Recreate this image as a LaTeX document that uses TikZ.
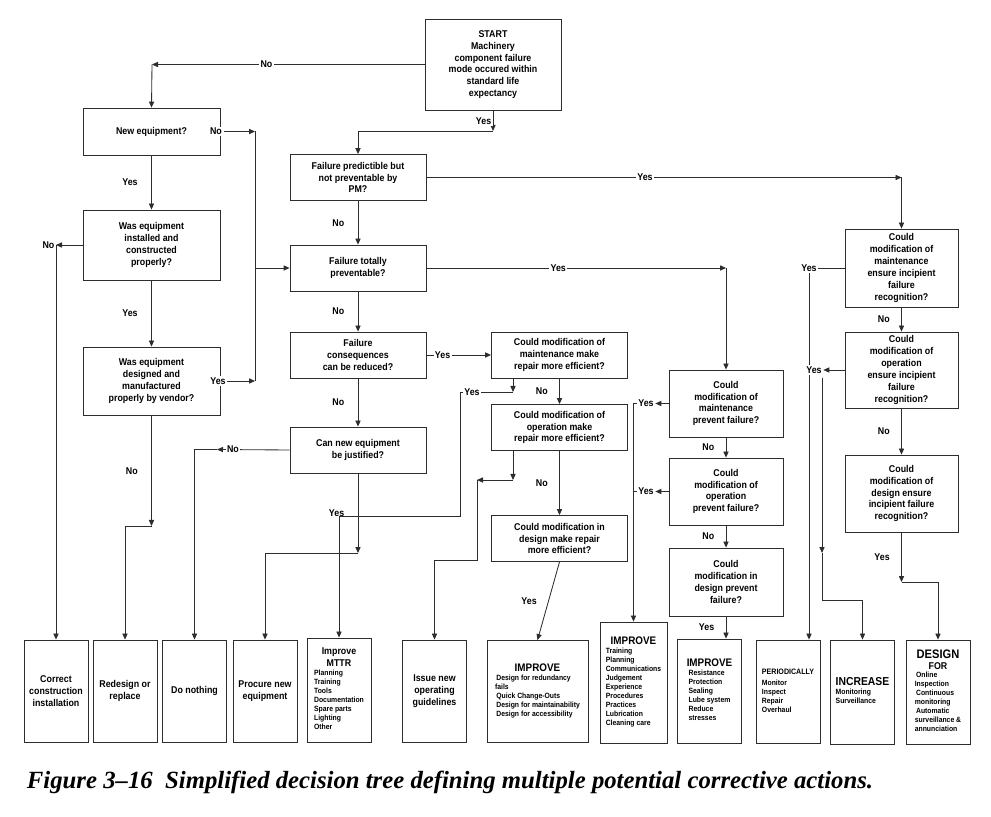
\documentclass[tikz,border=0pt]{standalone}
\usepackage{fontspec}
\setmainfont{Liberation Sans}[FakeStretch=0.9]
\newfontfamily\captionfont{Liberation Serif}
\usepackage{tikz}
\usetikzlibrary{arrows.meta, positioning, calc}
\definecolor{ink}{RGB}{45,45,45}
\newcommand{\listsize}{\fontsize{5.4}{6.4}\selectfont}
\newcommand{\headsize}{\fontsize{7.8}{9}\selectfont}

\begin{document}
\begin{tikzpicture}[
    x=0.25mm, y=-0.25mm,
    question/.style={rectangle, draw=ink, line width=0.6pt, fill=white, align=center, inner sep=1pt, minimum width=34mm, minimum height=11.5mm, font=\fontsize{7}{8.4}\selectfont\bfseries},
    action/.style={rectangle, draw=ink, line width=0.6pt, fill=white, align=center, inner sep=1pt, minimum width=16mm, minimum height=25.5mm, font=\fontsize{7}{8.4}\selectfont\bfseries},
    lbl/.style={fill=white, inner sep=1pt, font=\fontsize{7}{8}\selectfont\bfseries},
    arrow/.style={-{Triangle[length=1.5mm, width=1.3mm]}, draw=ink, line width=0.6pt},
    line/.style={draw=ink, line width=0.6pt}
]
\useasboundingbox (0,0) rectangle (991,817);

\node[question, minimum height=22.75mm] (start) at (493,64.5) {START\\Machinery\\component failure\\mode occured within\\standard life\\expectancy};
\node[question, minimum width=34.25mm, minimum height=11.75mm] (neweq) at (151.5,131.5) {New equipment?};
\node[question, minimum width=34.25mm, minimum height=17.5mm] (installed) at (151.5,245) {Was equipment\\installed and\\constructed\\properly?};
\node[question, minimum width=34.25mm, minimum height=17mm] (designed) at (151.5,381) {Was equipment\\designed and\\manufactured\\properly by vendor?};
\node[question] (predict) at (358,177.5) {Failure predictible but\\not preventable by\\PM?};
\node[question] (totally) at (358,268) {Failure totally\\preventable?};
\node[question] (conseq) at (358,355) {Failure\\consequences\\can be reduced?};
\node[question] (cannew) at (358,450) {Can new equipment\\be justified?};
\node[question] (mrep) at (559.5,355) {Could modification of\\maintenance make\\repair more efficient?};
\node[question] (orep) at (559.5,427.5) {Could modification of\\operation make\\repair more efficient?};
\node[question] (drep) at (559.5,538.5) {Could modification in\\design make repair\\more efficient?};
\node[question, minimum width=28.5mm, minimum height=16.75mm] (mprev) at (726,403.5) {Could\\modification of\\maintenance\\prevent failure?};
\node[question, minimum width=28.5mm, minimum height=16.75mm] (oprev) at (726,491.5) {Could\\modification of\\operation\\prevent failure?};
\node[question, minimum width=28.5mm, minimum height=17mm] (dprev) at (726,582) {Could\\modification in\\design prevent\\failure?};
\node[question, minimum width=28.25mm, minimum height=19.5mm] (mens) at (901.5,268) {Could\\modification of\\maintenance\\ensure incipient\\failure\\recognition?};
\node[question, minimum width=28.25mm, minimum height=19mm] (oens) at (901.5,370) {Could\\modification of\\operation\\ensure incipient\\failure\\recognition?};
\node[question, minimum width=28.25mm, minimum height=19.25mm] (dens) at (901.5,493.5) {Could\\modification of\\design ensure\\incipient failure\\recognition?};

\node[action] (correct) at (56,691) {Correct\\construction\\installation};
\node[action] (redesign) at (125,691) {Redesign or\\replace};
\node[action] (donothing) at (194.5,691) {Do nothing};
\node[action] (procure) at (265,691) {Procure new\\equipment};
\node[action, minimum height=26mm] (mttr) at (339,690) {Improve\\MTTR\\[1pt]\listsize\begin{tabular}{@{}l@{}}Planning\\Training\\Tools\\Documentation\\Spare parts\\Lighting\\Other\end{tabular}};
\node[action] (issue) at (434.5,691) {Issue new\\operating\\guidelines};
\node[action, minimum width=25.25mm] (impdesign) at (537.5,691.5) {\headsize IMPROVE\\[1pt]\listsize\begin{tabular}{@{}l@{}}\,Design for redundancy\\fails\\\,Quick Change-Outs\\\,Design for maintainability\\\,Design for accessibility\end{tabular}};
\node[action, minimum width=16.75mm, minimum height=30.25mm] (imptrain) at (633.5,682.5) {\headsize IMPROVE\\[1pt]\listsize\begin{tabular}{@{}l@{}}Training\\Planning\\Communications\\Judgement\\Experience\\Procedures\\Practices\\Lubrication\\Cleaning care\end{tabular}};
\node[action, minimum height=26mm] (impres) at (709.5,691) {\headsize IMPROVE\\[1pt]\listsize\begin{tabular}{@{}l@{}}Resistance\\Protection\\Sealing\\Lube system\\Reduce\\stresses\end{tabular}};
\node[action, minimum height=25.75mm] (periodic) at (788,691.5) {\listsize\begin{tabular}{@{}l@{}}{\fontsize{5.6}{7}\selectfont PERIODICALLY}\\[1pt]Monitor\\Inspect\\Repair\\Overhaul\end{tabular}};
\node[action, minimum height=26mm] (increase) at (862.5,692) {\listsize\begin{tabular}{@{}l@{}}{\fontsize{8.2}{9}\selectfont INCREASE}\\Monitoring\\Surveillance\end{tabular}};
\node[action, minimum height=26mm] (designfor) at (938,692) {\fontsize{8.8}{10}\selectfont DESIGN\\FOR\\\listsize\begin{tabular}{@{}l@{}}\,Online\\Inspection\\\,Continuous\\monitoring\\\,Automatic\\surveillance \&\\annunciation\end{tabular}};

\node[anchor=base west, font=\captionfont\bfseries\itshape\fontsize{17.6}{20}\selectfont] (caption) at (22,788) {Figure 3–16\enspace Simplified decision tree defining multiple potential corrective actions.};

\coordinate (cNo) at (152,64.5);
\draw[arrow] (start.west) -- node[lbl, pos=0.58]{No} (cNo);
\draw[arrow] (cNo) -- (neweq.north);
\coordinate (cYes) at (493,131);
\draw[arrow] (start.south) -- node[lbl, left]{Yes} (cYes);
\draw[arrow] (cYes) -| (predict.north);

\draw[arrow] (neweq) -- node[lbl, left=3mm]{Yes} (installed);
\node[lbl] (nNew) at (216,131.5) {No};
\coordinate (jTop) at (255,131.5);
\coordinate (jBot) at (255,381);
\draw[arrow] (nNew) -- (jTop);
\draw[line] (jTop) -- (jBot);
\draw[arrow] (jTop |- totally.west) -- (totally.west);
\node[lbl] (yDes) at (218,381) {Yes};
\draw[arrow] (yDes) -- (jBot);

\draw[arrow] (installed) -- node[lbl, left=3mm]{Yes} (designed);
\coordinate (cIns) at (installed.west -| correct.north);
\draw[arrow] (installed.west) -- (cIns);
\node[lbl, left] at (cIns) {No};
\draw[arrow] (cIns) -- (correct.north);
\coordinate (cDes) at (151.5,526);
\draw[arrow] (designed) -- node[lbl, left=3mm]{No} (cDes);
\draw[arrow] (cDes) -| (redesign.north);

\draw[arrow] (predict) -- node[lbl, left=3mm]{No} (totally);
\coordinate (cPre) at (mens.north |- predict.east);
\draw[arrow] (predict.east) -- node[lbl, pos=0.46]{Yes} (cPre);
\draw[arrow] (cPre) -- (mens.north);
\draw[arrow] (totally) -- node[lbl, left=3mm]{No} (conseq);
\coordinate (cTot) at (mprev.north |- totally.east);
\draw[arrow] (totally.east) -- node[lbl, pos=0.44]{Yes} (cTot);
\draw[arrow] (cTot) -- (mprev.north);
\draw[arrow] (conseq) -- node[lbl, left=3mm]{No} (cannew);
\draw[arrow] (conseq) -- node[lbl, pos=0.25]{Yes} (mrep);
\coordinate (cCan) at (217,449.5);
\draw[arrow] (cannew.west) -- node[lbl, pos=0.78]{No} (cCan);
\draw[arrow] (cCan) -| (donothing.north);
\coordinate (cCanY) at (358,553);
\draw[arrow] (cannew) -- node[lbl, left=3mm]{Yes} (cCanY);
\draw[arrow] (cCanY) -| (procure.north);

\coordinate (cMr) at (513,392);
\coordinate (cMr2) at (460,516);
\draw[arrow] (cMr |- mrep.south) -- (cMr);
\node[lbl] (yMr) at (472,392) {Yes};
\draw[line] (cMr) -- (yMr);
\draw[arrow] (yMr.west) -| (cMr2) -| (mttr.north);
\draw[arrow] (mrep) -- node[lbl, left=2.5mm]{No} (orep);
\coordinate (cOr) at (513,480);
\coordinate (cOr2) at (477,480);
\coordinate (cOr3) at (477,560);
\draw[arrow] (cOr |- orep.south) -- (cOr);
\draw[arrow] (cOr) -- (cOr2);
\draw[arrow] (cOr2) -- (cOr3) -| (issue.north);
\draw[arrow] (orep) -- node[lbl, left=2.5mm]{No} (drep);
\draw[arrow] (drep.south) -- node[lbl, left=2.5mm]{Yes} (impdesign.north);

\node[lbl] (yMp) at (646,403.5) {Yes};
\draw[arrow] (mprev.west) -- (yMp);
\draw[arrow] (yMp.west) -| (imptrain.north);
\node[lbl] (yOp) at (646,491.5) {Yes};
\draw[arrow] (oprev.west) -- (yOp);
\draw[line] (yOp.west) -- (yOp.west -| imptrain.north);
\draw[arrow] (mprev) -- node[lbl, left=2.5mm]{No} (oprev);
\draw[arrow] (oprev) -- node[lbl, left=2.5mm]{No} (dprev);
\draw[arrow] (dprev.south) -- node[lbl, left=2.5mm]{Yes} (dprev.south |- impres.north);

\node[lbl] (yMe) at (809,268) {Yes};
\draw[line] (mens.west) -- (yMe);
\draw[arrow] (yMe.south) -- (yMe.south |- periodic.north);
\draw[arrow] (mens) -- node[lbl, left=2.5mm]{No} (oens);
\node[lbl] (yOe) at (814,370) {Yes};
\draw[arrow] (oens.west) -- (yOe);
\coordinate (cOe0) at (822,378);
\coordinate (cOe) at (822,553);
\coordinate (cOe2) at (822,600);
\draw[arrow] (cOe0) -- (cOe);
\draw[arrow] (cOe) -- (cOe2) -| (increase.north);
\draw[arrow] (oens) -- node[lbl, left=2.5mm]{No} (dens);
\coordinate (cDe) at (901.5,582);
\draw[arrow] (dens) -- node[lbl, left=2.5mm]{Yes} (cDe);
\draw[arrow] (cDe) -| (designfor.north);
\end{tikzpicture}
\end{document}
